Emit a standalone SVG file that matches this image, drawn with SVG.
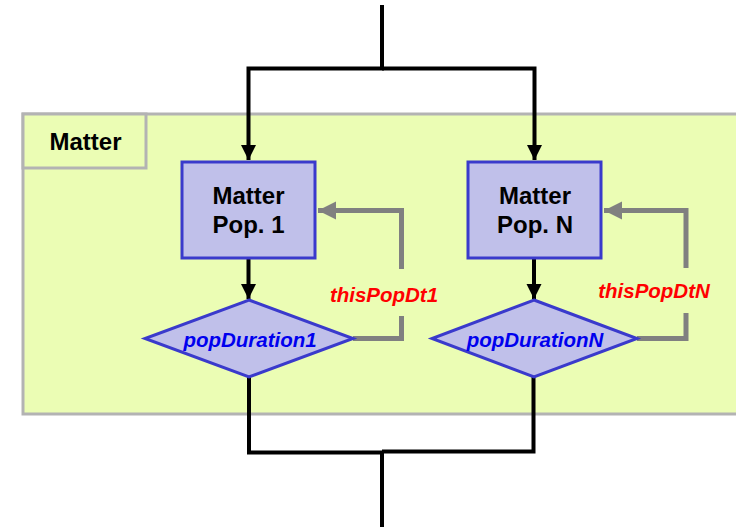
<svg xmlns="http://www.w3.org/2000/svg" width="736" height="527" viewBox="0 0 736 527">
  <style>
    .flow { fill: none; stroke: #000; stroke-width: 4; }
    .back { fill: none; stroke: #808080; stroke-width: 5; }
    .proc { fill: #c0c0ea; stroke: #3a3acc; stroke-width: 3; }
    .title { font-family: "Liberation Sans", Arial, sans-serif; font-weight: bold; font-size: 24px; fill: #000; text-anchor: middle; }
    .var { font-family: "Liberation Sans", Arial, sans-serif; font-weight: bold; font-style: italic; font-size: 20.5px; text-anchor: middle; }
  </style>
  <defs>
    <marker id="blackArrow" markerUnits="userSpaceOnUse" markerWidth="18" markerHeight="18" refX="15" refY="7.5" orient="auto">
      <path d="M0,0 L15,7.5 L0,15 Z" fill="#000"/>
    </marker>
    <marker id="grayArrow" markerUnits="userSpaceOnUse" markerWidth="20" markerHeight="20" refX="18" refY="9" orient="auto">
      <path d="M0,0 L18,9 L0,18 Z" fill="#808080"/>
    </marker>
  </defs>
  <rect width="736" height="527" fill="#fff"/>

  <g id="matter">
    <rect x="23" y="114" width="720" height="300" fill="#ebfdb4" stroke="#b3b3b3" stroke-width="3"/>
    <rect x="23" y="114" width="123" height="54" fill="#ebfdb4" stroke="#b3b3b3" stroke-width="3"/>
    <text class="title" x="85.5" y="150" font-size="25">Matter</text>
  </g>

  <g id="connectors">
    <path class="flow" d="M382,5 V68.5 H248.5 V160" marker-end="url(#blackArrow)"/>
    <path class="flow" d="M382,68.5 H534.5 V160" marker-end="url(#blackArrow)"/>
    <path class="flow" d="M248.5,258 V299" marker-end="url(#blackArrow)"/>
    <path class="flow" d="M534,258 V299" marker-end="url(#blackArrow)"/>
    <path class="flow" d="M249,376 V452.5 H382 V527"/>
    <path class="flow" d="M533.5,376 V451.5 H382"/>
    <path class="back" d="M353,338.5 H401.5 V316"/>
    <path class="back" d="M401.5,269 V210.5 H318" marker-end="url(#grayArrow)"/>
    <path class="back" d="M637,338.5 H686 V313"/>
    <path class="back" d="M686,268 V210.5 H604" marker-end="url(#grayArrow)"/>
  </g>

  <g id="pop1">
    <rect class="proc" x="182" y="162" width="133" height="96"/>
    <text class="title" x="248.5" y="204">Matter</text>
    <text class="title" x="248.5" y="233">Pop. 1</text>
  </g>
  <g id="popN">
    <rect class="proc" x="468" y="162" width="133" height="96"/>
    <text class="title" x="535" y="204">Matter</text>
    <text class="title" x="535" y="233">Pop. N</text>
  </g>

  <g id="duration1">
    <polygon class="proc" points="249,300 353,338.5 249,377 145,338.5"/>
    <text class="var" x="250" y="346.5" fill="#0000ee">popDuration1</text>
  </g>
  <g id="durationN">
    <polygon class="proc" points="534,300 637,338.5 534,377 432,338.5"/>
    <text class="var" x="535" y="346.5" fill="#0000ee">popDurationN</text>
  </g>

  <g id="label1">
    <text class="var" x="384" y="301.5" fill="#ff0000">thisPopDt1</text>
  </g>
  <g id="labelN">
    <text class="var" x="654" y="298" fill="#ff0000">thisPopDtN</text>
  </g>
</svg>
